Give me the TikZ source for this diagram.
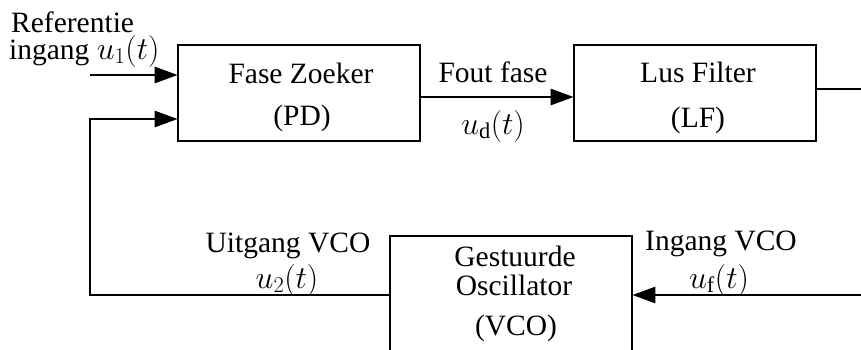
\RequirePackage{fix-cm}
\documentclass[tikz,border=0pt]{standalone}
\usepackage{fontspec}
\setmainfont{Liberation Serif}
\usetikzlibrary{arrows.meta}
\newcommand{\bigmath}[1]{{\fontsize{32}{35}\selectfont$#1$}}
\tikzset{
  blk/.style={draw, line width=2.6pt, minimum width=242pt, minimum height=96pt, inner sep=0pt},
  lbl/.style={anchor=base, inner sep=0pt, font=\fontsize{29.5}{35}\selectfont},
  wire/.style={line width=2.6pt},
  arr/.style={wire, -{Triangle[length=23pt,width=16pt]}, shorten >=-1pt}
}
\begin{document}
\begin{tikzpicture}[x=1pt,y=-1pt]
\useasboundingbox (0,0) rectangle (861,349);
\clip (0,0) rectangle (861,349);
% blocks
\node[blk] (pd) at (299,93) {};
\node[blk] (lf) at (695,93) {};
\node[blk, minimum height=118pt] (vco) at (511,295) {};
% block texts
\node[lbl] (pd1) at (301,83) {Fase Zoeker};
\node[lbl] (pd2) at (302,125) {(PD)};
\node[lbl] (lf1) at (698,82) {Lus Filter};
\node[lbl] (lf2) at (698,127) {(LF)};
\node[lbl] (v1) at (515,266) {Gestuurde};
\node[lbl] (v2) at (514,295) {Oscillator};
\node[lbl] (v3) at (516,335) {(VCO)};
% signal labels
\node[lbl, anchor=base west] (ref1) at (11,32) {Referentie};
\node[lbl, anchor=base west] (ref2) at (9,59) {ingang \bigmath{u_1(t)}};
\node[lbl] (ff1) at (493,82) {Fout fase};
\node[lbl] (ff2) at (493,134) {\bigmath{u_{\mathrm{d}}(t)}};
\node[lbl] (uv1) at (288,252) {Uitgang VCO};
\node[lbl] (uv2) at (287,288) {\bigmath{u_2(t)}};
\node[lbl] (iv1) at (721,250) {Ingang VCO};
\node[lbl] (iv2) at (719,288) {\bigmath{u_{\mathrm{f}}(t)}};
% coordinates
\coordinate (in1) at (90,75);
\coordinate (fb) at (90,119);
\coordinate (pdo) at (420,97);
\coordinate (lfo) at (816,89);
\coordinate (lfend) at (865,89);
\coordinate (vin) at (865,295);
% connectors
\draw[arr] (in1) -- (in1 -| pd.west);
\draw[arr] (vco.west) -| (fb) -- (fb -| pd.west);
\draw[arr] (pdo) -- (pdo -| lf.west);
\draw[wire] (lfo) -- (lfend);
\draw[arr] (vin) -- (vco.east);
\end{tikzpicture}
\end{document}
